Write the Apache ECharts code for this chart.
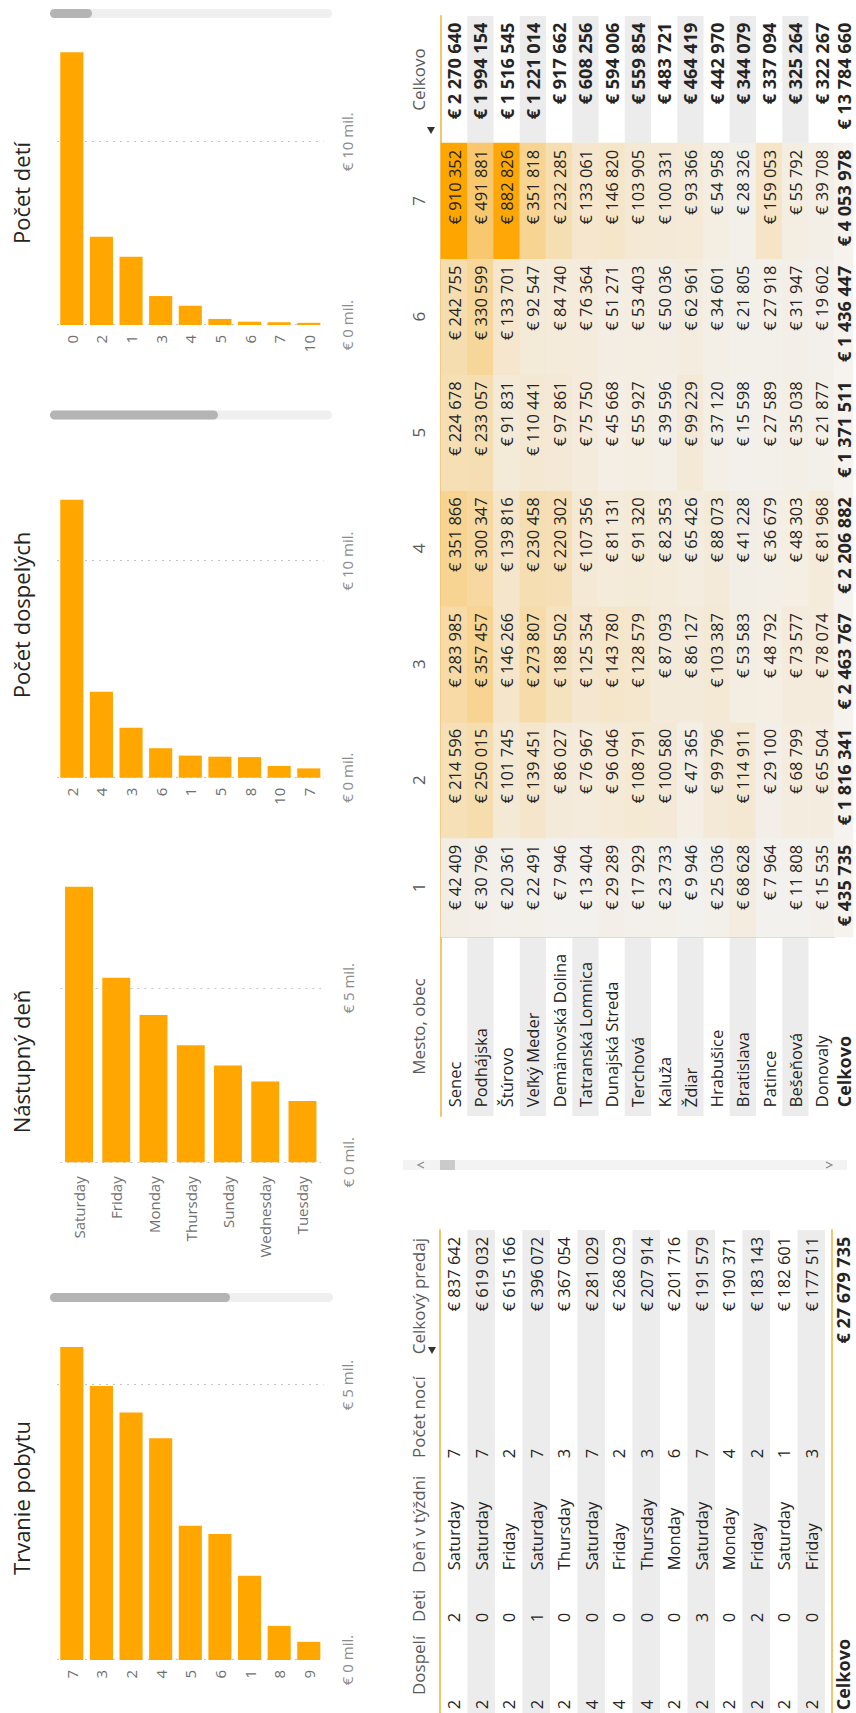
<!DOCTYPE html>
<html>
<head>
<meta charset="utf-8">
<script src="https://cdn.jsdelivr.net/npm/echarts@6.0.0/dist/echarts.min.js"></script>
<style>
  html, body { margin: 0; padding: 0; background: #ffffff; overflow: hidden; }
  #page { position: relative; width: 856px; height: 1713px; overflow: hidden; background: #ffffff; }
  /* the report is laid out landscape and turned a quarter turn */
  #board { position: absolute; left: 0; top: 0; width: 1713px; height: 856px;
           transform-origin: 0 0; transform: translate(0px, 1713px) rotate(-90deg); }
</style>
</head>
<body>
<div id="page"><div id="board"></div></div>
<script>
// ---- sales by length of stay (mil. €) ----
const stayCats = ['7', '3', '2', '4', '5', '6', '1', '8', '9'];
const stayVals = [5.69, 4.98, 4.50, 4.03, 2.44, 2.29, 1.53, 0.62, 0.33];

// ---- sales by arrival weekday (mil. €) ----
const dayCats = ['Saturday', 'Friday', 'Monday', 'Thursday', 'Sunday', 'Wednesday', 'Tuesday'];
const dayVals = [7.92, 5.30, 4.23, 3.36, 2.78, 2.32, 1.76];

// ---- sales by number of adults (mil. €) ----
const adultCats = ['2', '4', '3', '6', '1', '5', '8', '10', '7'];
const adultVals = [12.82, 3.97, 2.31, 1.36, 1.02, 0.97, 0.95, 0.54, 0.43];

// ---- sales by number of children (mil. €) ----
const childCats = ['0', '2', '1', '3', '4', '5', '6', '7', '10'];
const childVals = [14.88, 4.82, 3.73, 1.58, 1.05, 0.33, 0.18, 0.15, 0.12];

// ---- top booking combinations ----
const bookHeaders = ['Dospelí', 'Deti', 'Deň v týždni', 'Počet nocí', 'Celkový predaj'];
const bookAdults = [2, 2, 2, 2, 2, 4, 4, 4, 2, 2, 2, 2, 2, 2];
const bookKids = [2, 0, 0, 1, 0, 0, 0, 0, 0, 3, 0, 2, 0, 0];
const bookWeekday = ['Saturday', 'Saturday', 'Friday', 'Saturday', 'Thursday', 'Saturday', 'Friday',
                     'Thursday', 'Monday', 'Saturday', 'Monday', 'Friday', 'Saturday', 'Friday'];
const bookNights = [7, 7, 2, 7, 3, 7, 2, 3, 6, 7, 4, 2, 1, 3];
const bookSales = [837642, 619032, 615166, 396072, 367054, 281029, 268029, 207914, 201716,
                   191579, 190371, 183143, 182601, 177511];
const bookTotal = 27679735;

// ---- sales by city and number of nights ----
const cityHeader = 'Mesto, obec';
const totalLabel = 'Celkovo';
const cities = ['Senec', 'Podhájska', 'Štúrovo', 'Veľký Meder', 'Demänovská Dolina', 'Tatranská Lomnica',
                'Dunajská Streda', 'Terchová', 'Kaluža', 'Ždiar', 'Hrabušice', 'Bratislava', 'Patince',
                'Bešeňová', 'Donovaly'];
const nightCols = ['1', '2', '3', '4', '5', '6', '7'];
const salesByNights = [
  [42409, 214596, 283985, 351866, 224678, 242755, 910352],
  [30796, 250015, 357457, 300347, 233057, 330599, 491881],
  [20361, 101745, 146266, 139816, 91831, 133701, 882826],
  [22491, 139451, 273807, 230458, 110441, 92547, 351818],
  [7946, 86027, 188502, 220302, 97861, 84740, 232285],
  [13404, 76967, 125354, 107356, 75750, 76364, 133061],
  [29289, 96046, 143780, 81131, 45668, 51271, 146820],
  [17929, 108791, 128579, 91320, 55927, 53403, 103905],
  [23733, 100580, 87093, 82353, 39596, 50036, 100331],
  [9946, 47365, 86127, 65426, 99229, 62961, 93366],
  [25036, 99796, 103387, 88073, 37120, 34601, 54958],
  [68628, 114911, 53583, 41228, 15598, 21805, 28326],
  [7964, 29100, 48792, 36679, 27589, 27918, 159053],
  [11808, 68799, 73577, 48303, 35038, 31947, 55792],
  [15535, 65504, 78074, 81968, 21877, 19602, 39708]
];
const cityTotals = [2270640, 1994154, 1516545, 1221014, 917662, 608256, 594006, 559854, 483721,
                    464419, 442970, 344079, 337094, 325264, 322267];
const nightTotals = [435735, 1816341, 2463767, 2206882, 1371511, 1436447, 4053978];
const grandTotal = 13784660;

// ---------------------------------------------------------------
const FONT = "'Open Sans', 'Noto Sans', 'DejaVu Sans', sans-serif";
const GOLD = '#F2C66D';
const BAND = '#ECECEC';
const TXT = '#252423';
const HEAD = '#5A5A5A';
const BAR = '#FFA600';

const eur = v => '€ ' + String(v).replace(/\B(?=(\d{3})+(?!\d))/g, ' ');

const grid = [], xAxis = [], yAxis = [], series = [];

function addPanel(box, xCfg, yCfg) {
  const gi = grid.length;
  grid.push(Object.assign({ outerBoundsMode: 'none', containLabel: false }, box));
  xAxis.push(Object.assign({ gridIndex: gi }, xCfg));
  yAxis.push(Object.assign({ gridIndex: gi }, yCfg));
  return gi;
}

// ---------- horizontal bar charts ----------
function valueAxis(max, step, labelMargin) {
  return {
    type: 'value', min: 0, max: max, interval: step,
    axisLine: { show: false }, axisTick: { show: false },
    splitLine: { show: true, showMaxLine: false,
      lineStyle: { color: ['#C4C4C4', '#C4C4C4', 'rgba(0,0,0,0)'], type: [2, 5], width: 1 } },
    axisLabel: { showMaxLabel: false, margin: labelMargin, color: '#8C8C8C', fontFamily: FONT, fontSize: 15,
      formatter: v => (v % step === 0 ? '€ ' + v + ' mil.' : '') }
  };
}
function categoryAxis(cats, margin) {
  return {
    type: 'category', data: cats, inverse: true,
    axisLine: { show: false }, axisTick: { show: false }, splitLine: { show: false },
    axisLabel: { margin: margin, color: '#707070', fontFamily: FONT, fontSize: 15 }
  };
}
function barPanel(box, cats, vals, max, step, catMargin, valMargin, gap) {
  const gi = addPanel(box, valueAxis(max, step, valMargin), categoryAxis(cats, catMargin));
  series.push({ type: 'bar', xAxisIndex: gi, yAxisIndex: gi, data: vals, barCategoryGap: gap,
                itemStyle: { color: BAR }, silent: true });
}
barPanel({ left: 53, top: 57, width: 346.5, height: 266.6 }, stayCats, stayVals, 6.3, 5, 10, 16, '22%');
barPanel({ left: 550.7, top: 60.4, width: 295.8, height: 260.7 }, dayCats, dayVals, 8.5, 5, 14, 19, '25%');
barPanel({ left: 935.3, top: 57, width: 303.4, height: 266.6 }, adultCats, adultVals, 14, 10, 10, 16, '22%');
barPanel({ left: 1388, top: 57, width: 302.4, height: 266.6 }, childCats, childVals, 16.5, 10, 10, 16, '22%');

// ---------- table cells (heatmap on category axes) ----------
function cellPanel(box, xCats, yCats, data, o) {
  const gi = addPanel(box, {
    type: 'category', data: xCats, position: 'top',
    axisTick: { show: false }, splitLine: { show: false },
    axisLine: o.topLine ? { show: true, lineStyle: { color: GOLD, width: 2 } } : { show: false },
    axisLabel: o.header ? { show: true, margin: 23, verticalAlign: 'middle', color: HEAD,
                            fontFamily: FONT, fontSize: 17 } : { show: false }
  }, {
    type: 'category', data: yCats, inverse: true,
    axisTick: { show: false }, axisLabel: { show: false }, splitLine: { show: false },
    axisLine: o.leftLine ? { show: true, lineStyle: { color: GOLD, width: 1.5 } } : { show: false },
    splitArea: o.band ? { show: true, areaStyle: { color: ['rgba(255,255,255,0)', BAND] } } : { show: false }
  });
  if (!data) return -1;
  const s = {
    type: 'heatmap', xAxisIndex: gi, yAxisIndex: gi, data: data, silent: true,
    emphasis: { disabled: true },
    label: { show: true, position: o.pos || 'insideRight', distance: o.dist == null ? 7 : o.dist,
             color: TXT, fontFamily: FONT, fontSize: o.size || 16.5, fontWeight: o.weight || 'normal',
             formatter: o.fmt }
  };
  if (!o.heat) s.itemStyle = { color: o.fill || 'rgba(0,0,0,0)', borderWidth: 0 };
  series.push(s);
  return series.length - 1;
}

// top booking combinations table
const rowIds = bookSales.map((_, i) => String(i + 1));
const LT_TOP = 440, LT_H = 27.5 * rowIds.length;
cellPanel({ left: 0, top: LT_TOP, width: 483, height: LT_H }, [''], rowIds, null, { topLine: true, band: true });
cellPanel({ left: 4, top: LT_TOP, width: 40, height: LT_H }, [''], rowIds,
  bookAdults.map((v, i) => [0, i, v]), { pos: 'insideLeft', dist: 0, fmt: p => String(p.value[2]) });
cellPanel({ left: 91, top: LT_TOP, width: 40, height: LT_H }, [''], rowIds,
  bookKids.map((v, i) => [0, i, v]), { pos: 'insideLeft', dist: 0, fmt: p => String(p.value[2]) });
cellPanel({ left: 143, top: LT_TOP, width: 100, height: LT_H }, [''], rowIds,
  bookWeekday.map((v, i) => [0, i, i]), { pos: 'insideLeft', dist: 0, fmt: p => bookWeekday[p.dataIndex] });
cellPanel({ left: 255, top: LT_TOP, width: 50, height: LT_H }, [''], rowIds,
  bookNights.map((v, i) => [0, i, v]), { pos: 'insideLeft', dist: 0, fmt: p => String(p.value[2]) });
cellPanel({ left: 376, top: LT_TOP, width: 100, height: LT_H }, [''], rowIds,
  bookSales.map((v, i) => [0, i, v]), { pos: 'insideRight', dist: 0, fmt: p => eur(p.value[2]) });
cellPanel({ left: 0, top: 832, width: 483, height: 22 }, ['a', 'b'], ['t'], [
  { value: [0, 0, 0], label: { position: 'insideLeft', distance: 3, formatter: totalLabel } },
  { value: [1, 0, bookTotal], label: { position: 'insideRight', distance: 7 } }
], { topLine: true, weight: 'bold', size: 18, fmt: p => eur(p.value[2]) });

// city × nights matrix
const M_TOP = 441, M_H = 26.25 * cities.length;
cellPanel({ left: 597, top: M_TOP, width: 179, height: M_H }, [cityHeader], cities,
  cities.map((c, i) => [0, i, i]),
  { header: true, topLine: true, band: true, pos: 'insideLeft', dist: 9, fmt: p => cities[p.dataIndex] });
const heatFirst = cellPanel({ left: 776, top: M_TOP, width: 99, height: M_H }, nightCols.slice(0, 1), cities,
  salesByNights.map((r, i) => [0, i, r[0]]),
  { header: true, topLine: true, leftLine: true, heat: true, fmt: p => eur(p.value[2]) });
const restCells = [];
salesByNights.forEach((r, i) => r.slice(1).forEach((v, j) => restCells.push([j, i, v])));
const heatRest = cellPanel({ left: 875, top: M_TOP, width: 695, height: M_H }, nightCols.slice(1), cities,
  restCells, { header: true, topLine: true, heat: true, fmt: p => eur(p.value[2]) });
cellPanel({ left: 1570, top: M_TOP, width: 127, height: M_H }, [totalLabel], cities,
  cityTotals.map((v, i) => [0, i, v]),
  { header: true, topLine: true, band: true, weight: 'bold', size: 18, fmt: p => eur(p.value[2]) });

// matrix total row
cellPanel({ left: 597, top: 834, width: 179, height: 19 }, [''], ['t'], [[0, 0, 0]],
  { pos: 'insideLeft', dist: 9, weight: 'bold', size: 18, fmt: () => totalLabel });
cellPanel({ left: 776, top: 834, width: 99, height: 19 }, nightCols.slice(0, 1), ['t'],
  [[0, 0, nightTotals[0]]], { fill: '#F6F3EF', weight: 'bold', size: 18, fmt: p => eur(p.value[2]) });
cellPanel({ left: 875, top: 834, width: 695, height: 19 }, nightCols.slice(1), ['t'],
  nightTotals.slice(1).map((v, j) => [j, 0, v]), { fill: '#F6F3EF', weight: 'bold', size: 18, fmt: p => eur(p.value[2]) });
cellPanel({ left: 1570, top: 834, width: 127, height: 19 }, [totalLabel], ['t'],
  [[0, 0, grandTotal]], { weight: 'bold', size: 18, fmt: p => eur(p.value[2]) });

const allCells = salesByNights.flat();

// ---------- titles and headers ----------
const chartTitle = (text, cx) => ({
  text: text, left: cx, top: 21, textAlign: 'center', textVerticalAlign: 'middle', padding: 0,
  textStyle: { fontFamily: FONT, fontSize: 22, fontWeight: 'normal', color: '#252423' }
});
const headerTitle = (text, x, align) => ({
  text: text, left: x, top: 418, textAlign: align, textVerticalAlign: 'middle', padding: 0,
  textStyle: { fontFamily: FONT, fontSize: 17, fontWeight: 'normal', color: HEAD }
});

// ---------- scrollbars and sort markers ----------
const rect = (x, y, w, h, r, fill) => ({ type: 'rect', silent: true, shape: { x, y, width: w, height: h, r }, style: { fill } });
const graphic = [
  rect(411, 50, 9, 283, 4.5, '#EFEFEF'), rect(411, 50, 9, 180, 4.5, '#B4B4B4'),
  rect(1293.5, 50, 9, 282, 4.5, '#EFEFEF'), rect(1293.5, 50, 9, 168, 4.5, '#B4B4B4'),
  rect(1695, 50, 9, 282, 4.5, '#EFEFEF'), rect(1695, 50, 9, 42, 4.5, '#B4B4B4'),
  rect(543, 403, 10, 444, 0, '#F3F3F3'), rect(543, 440, 10, 15, 0, '#CACACA'),
  { type: 'polyline', silent: true, shape: { points: [[545, 424], [548, 418], [551, 424]] },
    style: { stroke: '#8A8A8A', lineWidth: 1.2, fill: null } },
  { type: 'polyline', silent: true, shape: { points: [[545, 826], [548, 832], [551, 826]] },
    style: { stroke: '#8A8A8A', lineWidth: 1.2, fill: null } },
  { type: 'polygon', silent: true, shape: { points: [[366, 428], [366, 436], [359, 432]] }, style: { fill: '#333333' } },
  { type: 'polygon', silent: true, shape: { points: [[1586, 427], [1586, 435], [1579, 431]] }, style: { fill: '#333333' } }
];

const chart = echarts.init(document.getElementById('board'), null, { renderer: 'svg', width: 1713, height: 856 });
chart.setOption({
  animation: false,
  backgroundColor: '#ffffff',
  textStyle: { fontFamily: FONT },
  title: [
    chartTitle('Trvanie pobytu', 215),
    chartTitle('Nástupný deň', 651.5),
    chartTitle('Počet dospelých', 1098),
    chartTitle('Počet detí', 1520),
    headerTitle(bookHeaders[0], 18, 'left'),
    headerTitle(bookHeaders[1], 91, 'left'),
    headerTitle(bookHeaders[2], 140, 'left'),
    headerTitle(bookHeaders[3], 255, 'left'),
    headerTitle(bookHeaders[4], 475, 'right')
  ],
  grid: grid,
  xAxis: xAxis,
  yAxis: yAxis,
  visualMap: {
    type: 'continuous', show: false, seriesIndex: [heatFirst, heatRest], dimension: 2,
    min: Math.min.apply(null, allCells), max: Math.max.apply(null, allCells),
    inRange: { color: ['#F3F1EE', '#FFA500'] }
  },
  graphic: graphic,
  series: series
});
</script>
</body>
</html>
